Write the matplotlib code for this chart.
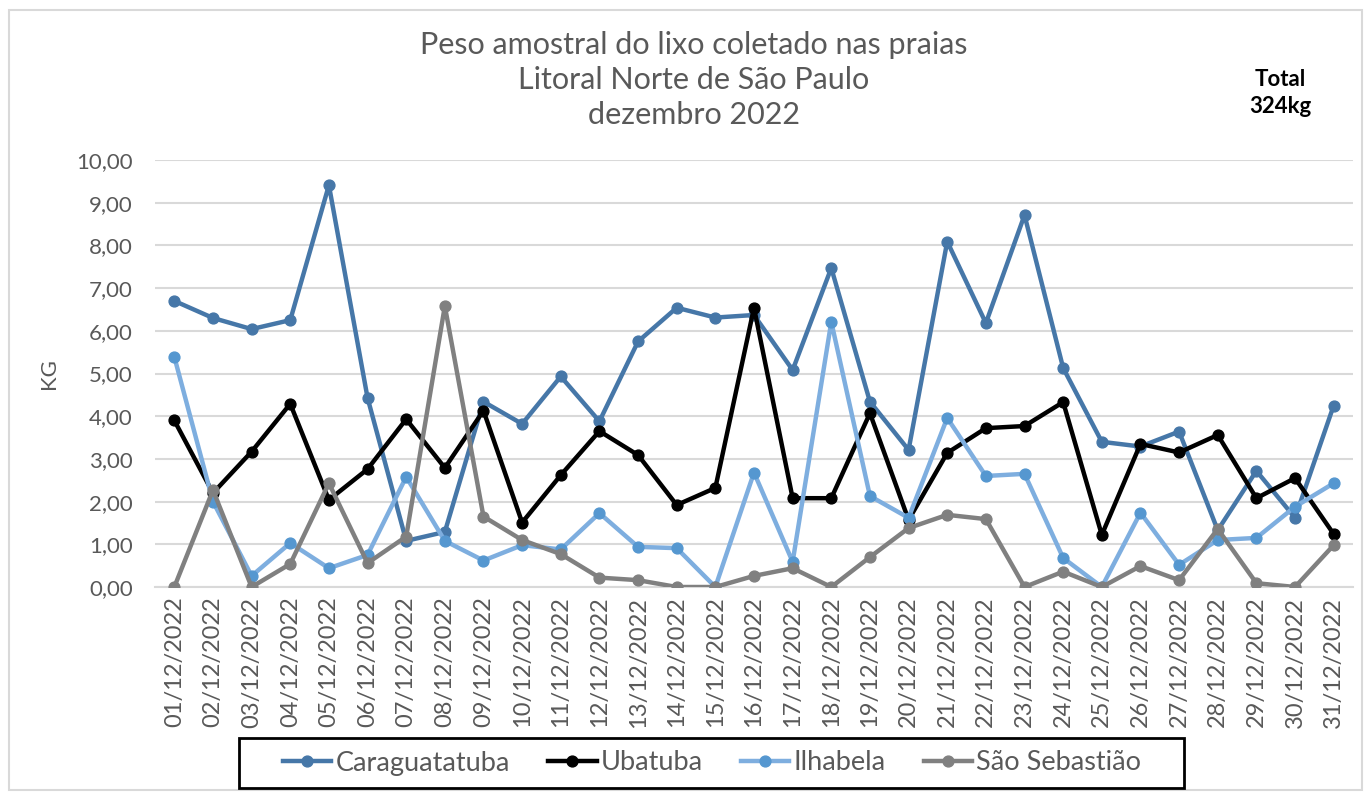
import matplotlib
matplotlib.use("Agg")
import matplotlib.pyplot as plt
from matplotlib.patches import Rectangle

dates = [f"{d:02d}/12/2022" for d in range(1, 32)]

caraguatatuba = [6.70, 6.30, 6.04, 6.25, 9.41, 4.43, 1.08, 1.29, 4.34, 3.82,
                 4.93, 3.88, 5.75, 6.54, 6.31, 6.37, 5.08, 7.47, 4.34, 3.21,
                 8.09, 6.18, 8.71, 5.13, 3.40, 3.29, 3.64, 1.33, 2.72, 1.62, 4.25]
ubatuba = [3.90, 2.20, 3.17, 4.29, 2.04, 2.76, 3.93, 2.79, 4.13, 1.51,
           2.62, 3.65, 3.09, 1.92, 2.32, 6.54, 2.08, 2.08, 4.07, 1.57,
           3.14, 3.72, 3.77, 4.33, 1.22, 3.35, 3.15, 3.56, 2.08, 2.55, 1.24]
ilhabela = [5.39, 2.00, 0.26, 1.03, 0.44, 0.75, 2.58, 1.08, 0.62, 0.98,
            0.88, 1.73, 0.94, 0.91, 0.00, 2.68, 0.59, 6.21, 2.13, 1.62,
            3.96, 2.60, 2.65, 0.68, 0.00, 1.74, 0.52, 1.10, 1.15, 1.88, 2.43]
sao_sebastiao = [0.00, 2.27, 0.00, 0.54, 2.43, 0.56, 1.18, 6.58, 1.65, 1.10,
                 0.77, 0.22, 0.16, 0.00, 0.00, 0.26, 0.44, 0.00, 0.70, 1.38,
                 1.69, 1.59, 0.00, 0.36, 0.00, 0.49, 0.16, 1.36, 0.09, 0.00, 0.98]

series = [
    ("Caraguatatuba", caraguatatuba, "#4677A8", "#4677A8"),
    ("Ubatuba", ubatuba, "#000000", "#000000"),
    ("Ilhabela", ilhabela, "#7EAEDF", "#5597D0"),
    ("São Sebastião", sao_sebastiao, "#808080", "#808080"),
]

title = "Peso amostral do lixo coletado nas praias\nLitoral Norte de São Paulo\ndezembro 2022"
total_text = "Total\n324kg"
yticks = [0, 1, 2, 3, 4, 5, 6, 7, 8, 9, 10]

plt.rcParams['font.family'] = ['Lato', 'DejaVu Sans']
W, H = 1366, 793
fig = plt.figure(figsize=(W / 100, H / 100), dpi=100)
fig.patch.set_facecolor("white")

# chart border
fig.add_artist(Rectangle((9 / W, 3 / H), (1362 - 9) / W, (783 - 3) / H,
                         transform=fig.transFigure, fill=False,
                         edgecolor="#D9D9D9", linewidth=1.5))

ax = fig.add_axes([155 / W, (793 - 587) / H, (1353 - 155) / W, (587 - 160) / H])
x = list(range(len(dates)))
handles = []
for name, vals, lc, mc in series:
    h, = ax.plot(x, vals, color=lc, linewidth=3.2, marker="o", markersize=7.8,
                 markerfacecolor=mc, markeredgecolor=mc, label=name,
                 solid_joinstyle="round", zorder=3)
    handles.append(h)

ax.set_xlim(-0.5, len(dates) - 0.5)
ax.set_ylim(0, 10)
ax.set_yticks(yticks)
ax.set_yticklabels([f"{v:.2f}".replace(".", ",") for v in yticks])
ax.set_xticks(x)
ax.set_xticklabels(dates, rotation=90)
ax.tick_params(axis="both", length=0, colors="#595959")
ax.tick_params(axis="y", pad=16, labelsize=16)
ax.tick_params(axis="x", pad=7, labelsize=17)
ax.grid(axis="y", color="#D9D9D9", linewidth=1.5, zorder=0)
ax.set_axisbelow(True)
for s in ["top", "right", "left"]:
    ax.spines[s].set_visible(False)
ax.spines["bottom"].set_color("#D9D9D9")
ax.spines["bottom"].set_linewidth(1.5)
ax.set_ylabel("KG", color="#595959", fontsize=16, labelpad=12)

fig.text(694 / W, 1 - 80 / H, title, ha="center", va="center", fontsize=22,
         color="#595959", linespacing=1.3)
fig.text(1280 / W, 1 - 93 / H, total_text, ha="center", va="center",
         fontsize=16, fontweight="bold", color="black", linespacing=1.3)

leg = fig.legend(handles=handles, loc="center", ncol=4,
                 bbox_to_anchor=(712 / W, 1 - 763 / H), fontsize=19.5,
                 frameon=False, handlelength=1.8,
                 columnspacing=1.4, handletextpad=0.15, borderpad=0.2)
for t in leg.get_texts():
    t.set_color("#595959")
fig.add_artist(Rectangle((239 / W, (793 - 788) / H), (1184 - 239) / W, (788 - 738) / H,
                         transform=fig.transFigure, fill=False,
                         edgecolor="black", linewidth=2))

fig.savefig("out.png", dpi=100, facecolor="white")
